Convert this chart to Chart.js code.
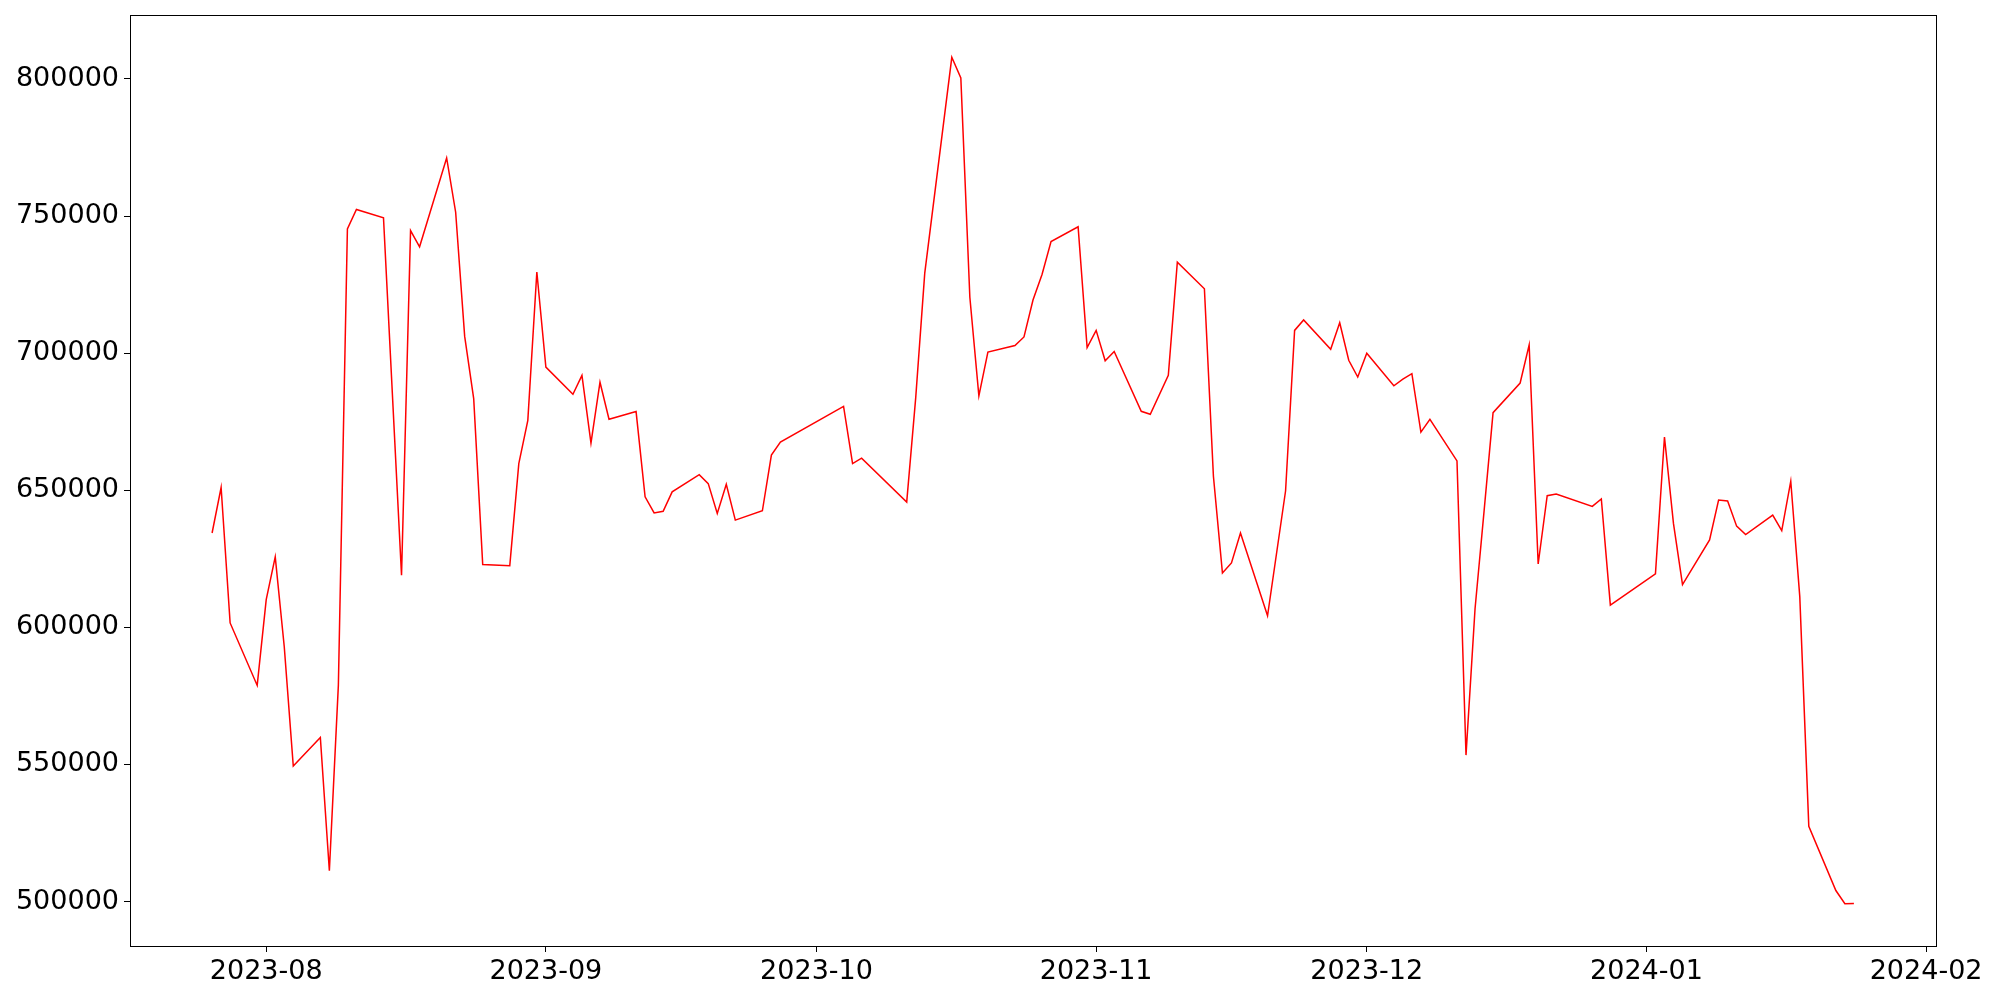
<!DOCTYPE html>
<html>
<head>
<meta charset="utf-8">
<script src="https://cdn.jsdelivr.net/npm/chart.js@4/dist/chart.umd.min.js"></script>
<style>
  html, body { margin: 0; padding: 0; background: #fff; }
  #wrap { width: 2000px; height: 1000px; }
</style>
</head>
<body>
<div id="wrap"><canvas id="chart" width="2000" height="1000"></canvas></div>
<script>
// ===== Data =====
const dates = [
  '2023-07-26','2023-07-27','2023-07-28','2023-07-31',
  '2023-08-01','2023-08-02','2023-08-03','2023-08-04','2023-08-07','2023-08-08','2023-08-09','2023-08-10','2023-08-11',
  '2023-08-14','2023-08-16','2023-08-17','2023-08-18','2023-08-21','2023-08-22','2023-08-23','2023-08-24','2023-08-25',
  '2023-08-28','2023-08-29','2023-08-30','2023-08-31',
  '2023-09-01','2023-09-04','2023-09-05','2023-09-06','2023-09-07','2023-09-08','2023-09-11','2023-09-12','2023-09-13',
  '2023-09-14','2023-09-15','2023-09-18','2023-09-19','2023-09-20','2023-09-21','2023-09-22','2023-09-25','2023-09-26',
  '2023-09-27',
  '2023-10-04','2023-10-05','2023-10-06','2023-10-11','2023-10-12','2023-10-13','2023-10-16','2023-10-17','2023-10-18',
  '2023-10-19','2023-10-20','2023-10-23','2023-10-24','2023-10-25','2023-10-26','2023-10-27','2023-10-30','2023-10-31',
  '2023-11-01','2023-11-02','2023-11-03','2023-11-06','2023-11-07','2023-11-09','2023-11-10','2023-11-13','2023-11-14',
  '2023-11-15','2023-11-16','2023-11-17','2023-11-20','2023-11-22','2023-11-23','2023-11-24','2023-11-27','2023-11-28',
  '2023-11-29','2023-11-30',
  '2023-12-01','2023-12-04','2023-12-05','2023-12-06','2023-12-07','2023-12-08','2023-12-11','2023-12-12','2023-12-13',
  '2023-12-14','2023-12-15','2023-12-18','2023-12-19','2023-12-20','2023-12-21','2023-12-22','2023-12-26','2023-12-27',
  '2023-12-28',
  '2024-01-02','2024-01-03','2024-01-04','2024-01-05','2024-01-08','2024-01-09','2024-01-10','2024-01-11','2024-01-12',
  '2024-01-15','2024-01-16','2024-01-17','2024-01-18','2024-01-19','2024-01-22','2024-01-23','2024-01-24'
];

const values = [
  634400, 651000, 601600, 578800,
  610100, 625700, 592900, 549400, 559800, 511200, 579000, 745300, 752400,
  749400, 619000, 744700, 738800, 771200, 751400, 706100, 683400, 622900,
  622500, 659700, 675500, 729600,
  694900, 685000, 691900, 667200, 689400, 675900, 678700, 647600, 641700,
  642300, 649400, 655700, 652400, 641500, 652200, 639100, 642500, 662800,
  667600,
  680600, 659700, 661700, 645700, 683800, 729200, 807900, 800400, 720400,
  684400, 700400, 702800, 705900, 719400, 728700, 740700, 746100, 702000,
  708300, 697200, 700600, 678800, 677700, 691900, 733200, 723500, 655100,
  619800, 623500, 634400, 604200, 649800, 708300, 712100, 701400, 711100,
  697400, 691300,
  700000, 688100, 690500, 692500, 671200, 675900, 660700, 553400, 606700,
  642300, 678300, 689100, 703000, 623100, 648000, 648600, 644100, 646800,
  608100,
  619500, 669400, 637800, 615600, 631900, 646400, 646100, 636900, 633800,
  640900, 635300, 653300, 611200, 527400, 504000, 499200, 499300
];

const monthTicks = ['2023-08', '2023-09', '2023-10', '2023-11', '2023-12', '2024-01', '2024-02'];
const yTicks = [500000, 550000, 600000, 650000, 700000, 750000, 800000];

// ===== Helpers =====
function toDay(s) {
  let p = s.split('-').map(Number);
  return Date.UTC(p[0], p[1] - 1, p[2] || 1) / 86400000;
}
function dayLabel(v) {
  let d = new Date(Math.round(v) * 86400000);
  return d.getUTCFullYear() + '-' + String(d.getUTCMonth() + 1).padStart(2, '0');
}

let points = dates.map((d, i) => ({ x: toDay(d), y: values[i] }));
let xFirst = toDay(dates[0]), xLast = toDay(dates[dates.length - 1]);
let xPad = (xLast - xFirst) * 0.05;
let yMinV = Math.min(...values), yMaxV = Math.max(...values);
let yPad = (yMaxV - yMinV) * 0.05;

const FONT = { family: "'DejaVu Sans', sans-serif", size: 27 };

// frame around plot area (matplotlib spines)
const frame = {
  id: 'frame',
  afterDraw(chart) {
    let a = chart.chartArea, c = chart.ctx;
    c.save();
    c.strokeStyle = '#000';
    c.lineWidth = 1;
    c.strokeRect(Math.round(a.left) + 0.5, Math.round(a.top) + 0.5,
                 Math.round(a.right - a.left), Math.round(a.bottom - a.top));
    c.restore();
  }
};

// ===== Chart =====
new Chart(document.getElementById('chart'), {
  type: 'line',
  data: {
    datasets: [{
      data: points,
      borderColor: '#ff0000',
      borderWidth: 1.5,
      pointRadius: 0,
      tension: 0,
      fill: false
    }]
  },
  options: {
    responsive: false,
    animation: false,
    devicePixelRatio: 1,
    layout: { padding: { top: 15, right: 64, left: 0, bottom: 0 } },
    plugins: { legend: { display: false }, tooltip: { enabled: false } },
    scales: {
      x: {
        type: 'linear',
        min: xFirst - xPad,
        max: xLast + xPad,
        afterFit: s => { s.height = 54; s.paddingLeft = 0; s.paddingRight = 0; },
        afterBuildTicks: s => { s.ticks = monthTicks.map(m => ({ value: toDay(m + '-01') })); },
        grid: { display: true, drawOnChartArea: false, drawTicks: true, tickLength: 6, color: '#000' },
        border: { display: true, color: '#000', width: 1 },
        ticks: {
          color: '#000', font: FONT, padding: 4, maxRotation: 0, autoSkip: false,
          callback: v => dayLabel(v)
        }
      },
      y: {
        min: yMinV - yPad,
        max: yMaxV + yPad,
        afterFit: s => { s.width = 130; s.paddingTop = 0; s.paddingBottom = 0; },
        afterBuildTicks: s => { s.ticks = yTicks.map(v => ({ value: v })); },
        grid: { display: true, drawOnChartArea: false, drawTicks: true, tickLength: 6, color: '#000' },
        border: { display: true, color: '#000', width: 1 },
        ticks: {
          color: '#000', font: FONT, padding: 5, autoSkip: false,
          callback: v => String(v)
        }
      }
    }
  },
  plugins: [frame]
});
</script>
</body>
</html>
